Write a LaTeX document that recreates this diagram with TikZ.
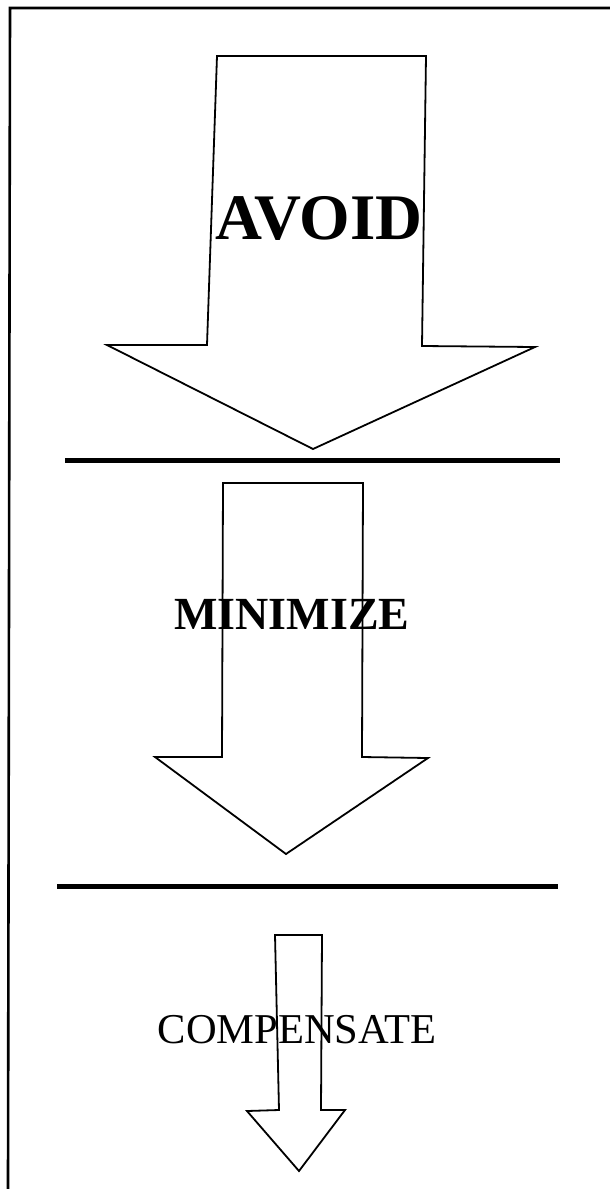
\documentclass[tikz,border=0pt]{standalone}
\usepackage{fontspec}
\setmainfont{Liberation Serif}
\begin{document}
\begin{tikzpicture}[x=1pt,y=-1pt,
  arrowshape/.style={draw=black,line width=1.8pt,line join=miter},
  rule/.style={draw=black,line width=5pt},
  border/.style={draw=black,line width=2.6pt},
  lbl/.style={inner sep=0pt,anchor=base}]
\useasboundingbox (0,0) rectangle (610,1189);
\fill[white] (0,0) rectangle (610,1189);
% frame
\draw[border] (610,8) -- (10,8) -- (8,1189);
% separator rules
\draw[rule] (65,460) -- (560,460);
\draw[rule] (57,886) -- (558,886);
% arrows
\draw[arrowshape] (217,56) -- (426,56) -- (422,346) -- (535,347) -- (313,449) -- (107,345) -- (207,345) -- cycle;
\draw[arrowshape] (223,483) -- (363,483) -- (362,757) -- (428,758) -- (286,854) -- (155,757) -- (222,757) -- cycle;
\draw[arrowshape] (275,935) -- (322,935) -- (321,1110) -- (345,1110) -- (299,1171) -- (247,1111) -- (279,1110) -- cycle;
% labels
\node[lbl,font=\fontsize{65}{65}\selectfont\bfseries] (avoid) at (319,239) {AVOID};
\node[lbl,font=\fontsize{46}{46}\selectfont\bfseries] (minimize) at (292,629) {MINIMIZE};
\node[lbl,font=\fontsize{42.5}{42.5}\selectfont] (compensate) at (297,1043) {COMPENSATE};
\end{tikzpicture}
\end{document}
